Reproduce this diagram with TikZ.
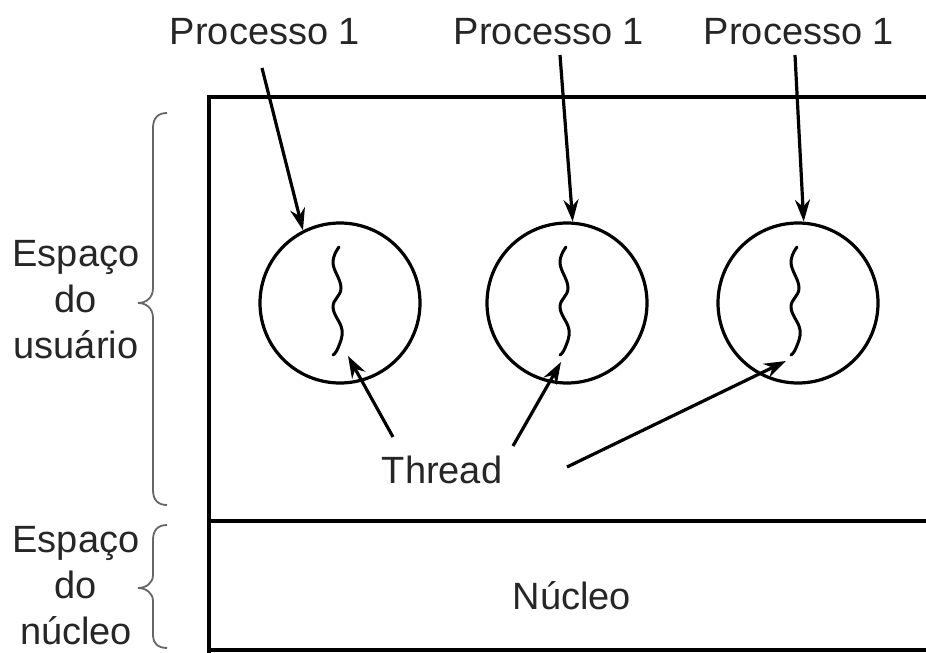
\documentclass[tikz,border=0pt]{standalone}
\usepackage{fontspec}
\setmainfont{Liberation Sans}
\usetikzlibrary{arrows.meta}
\begin{document}
\begin{tikzpicture}[x=1pt,y=-1pt,
  lbl/.style={font=\fontsize{38}{46}\selectfont, text=black!85, inner sep=0pt},
  proc/.style={circle, draw, line width=3.2pt, minimum size=160pt, inner sep=0pt},
  arr/.style={line width=3.2pt, -{Stealth[length=22pt,width=15pt]}},
  box/.style={line width=3.6pt},
  bracestyle/.style={line width=1.8pt, draw=black!60},
  thr/.style={line width=3pt, line cap=round}]
\useasboundingbox (0,0) rectangle (926,653);

% frame
\draw[box] (940,97) -- (209,97) -- (209,665);
\draw[box] (209,521) -- (940,521);
\draw[box] (209,650) -- (940,650);

% processes
\node[proc] (c1) at (340,303) {};
\node[proc] (c2) at (567,303) {};
\node[proc] (c3) at (798,303) {};

% threads
\foreach \c in {c1,c2,c3}{
  \draw[thr, shift={(\c.center)}] plot[smooth, tension=0.7] coordinates
    {(-1,-56) (-7,-40) (1,-15) (-7,4) (2,27) (-2,45) (-7,52)};
}

% labels
\node[lbl, anchor=base] (p1) at (265,44) {Processo 1};
\node[lbl, anchor=base] (p2) at (549,44) {Processo 1};
\node[lbl, anchor=base] (p3) at (799,44) {Processo 1};
\node[lbl, anchor=base] (thread) at (442,483) {Thread};
\node[lbl, anchor=base] (nuc) at (572,609) {Núcleo};
\node[lbl, align=center] (us) at (76,299.5) {Espaço\\do\\usuário};
\node[lbl, align=center] (ks) at (76,585.5) {Espaço\\do\\núcleo};

% arrows from process labels
\coordinate (s1) at (262,68);
\coordinate (s2) at (560,55);
\coordinate (s3) at (795,55);
\draw[arr] (s1) -- (c1.117);
\draw[arr] (s2) -- (c2.86);
\draw[arr] (s3) -- (c3.86);

% arrows from Thread
\coordinate (ta) at (393,437);
\coordinate (tb) at (513,446);
\coordinate (tc) at (567,467);
\coordinate (ea) at (348,356);
\coordinate (eb) at (561,362);
\coordinate (ec) at (786,361);
\draw[arr] (ta) -- (ea);
\draw[arr] (tb) -- (eb);
\draw[arr] (tc) -- (ec);

% braces
\draw[bracestyle] (167,113) .. controls (158,113) and (153,118) .. (153,128)
  -- (153,288) .. controls (153,298) and (146,303) .. (138,303)
  .. controls (146,303) and (153,308) .. (153,318)
  -- (153,490) .. controls (153,500) and (158,505) .. (167,505);
\draw[bracestyle] (167,525) .. controls (158,525) and (153,530) .. (153,540)
  -- (153,575) .. controls (153,583) and (146,588) .. (138,588)
  .. controls (146,588) and (153,593) .. (153,601)
  -- (153,636) .. controls (153,643) and (158,648) .. (167,648);
\end{tikzpicture}
\end{document}
